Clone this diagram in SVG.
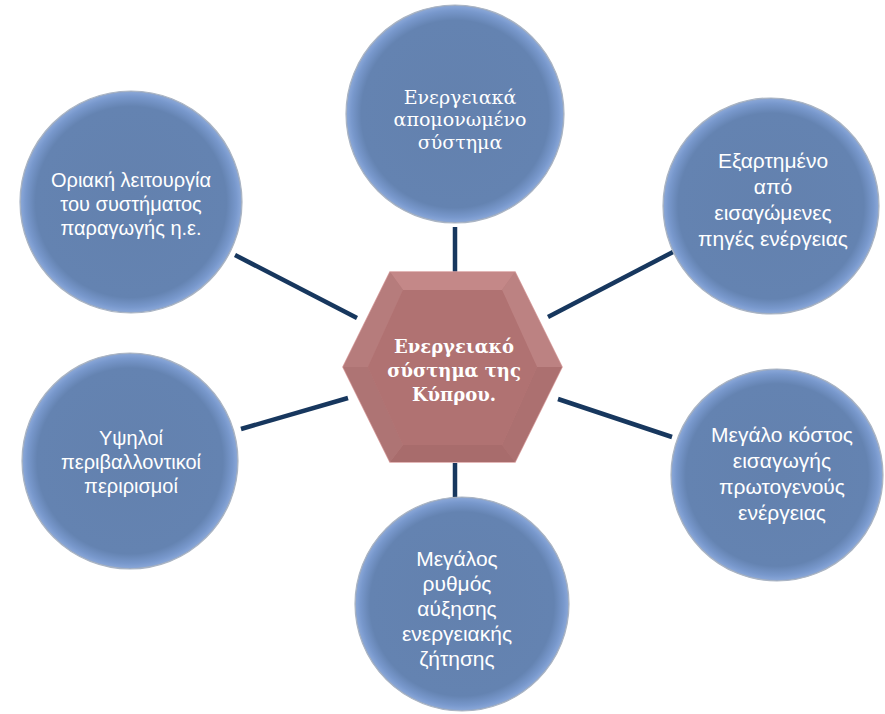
<svg xmlns="http://www.w3.org/2000/svg" width="885" height="714" viewBox="0 0 885 714">
<defs>
<radialGradient id="cg" cx="0.5" cy="0.5" r="0.5">
<stop offset="0" stop-color="#6381AE"/>
<stop offset="0.86" stop-color="#6483B1"/>
<stop offset="0.95" stop-color="#7898CC"/>
<stop offset="0.985" stop-color="#86A4D6"/>
<stop offset="1" stop-color="#9AA6B8"/>
</radialGradient>
<style>
.circ{fill:url(#cg);stroke:#A9B4C4;stroke-width:1.2}
.lbl{fill:#FFFFFF;font-family:"Liberation Sans","Noto Sans",sans-serif;font-size:20px;text-anchor:middle}
.big{font-size:21px}
.ser{fill:#FFFFFF;font-family:"DejaVu Serif","Liberation Serif",serif;font-size:19px;text-anchor:middle}
.hub{fill:#FFFFFF;font-family:"DejaVu Serif","Liberation Serif",serif;font-size:18px;font-weight:bold;text-anchor:middle}
.con{stroke:#17375E;stroke-width:4.5;stroke-linecap:butt;fill:none}
</style>
</defs>
<rect width="885" height="714" fill="#FFFFFF"/>

<g id="connectors">
<line class="con" x1="455" y1="227" x2="455" y2="272"/>
<line class="con" x1="235" y1="255" x2="357" y2="318"/>
<line class="con" x1="548" y1="317" x2="673" y2="252"/>
<line class="con" x1="558" y1="399" x2="672" y2="437"/>
<line class="con" x1="241" y1="429" x2="348" y2="398"/>
<line class="con" x1="455" y1="463" x2="455" y2="498"/>
</g>

<g id="node-top">
<circle class="circ" cx="455" cy="114" r="109"/>
<text class="ser" x="460" y="104">Ενεργειακά</text>
<text class="ser" x="460" y="126">απομονωμένο</text>
<text class="ser" x="460" y="149">σύστημα</text>
</g>

<g id="node-topleft">
<circle class="circ" cx="131" cy="202" r="111"/>
<text class="lbl" x="131" y="187">Οριακή λειτουργία</text>
<text class="lbl" x="131" y="211">του συστήματος</text>
<text class="lbl" x="131" y="235">παραγωγής η.ε.</text>
</g>

<g id="node-topright">
<circle class="circ" cx="771" cy="206" r="108"/>
<text class="lbl big" x="773" y="168">Εξαρτημένο</text>
<text class="lbl big" x="773" y="194">από</text>
<text class="lbl big" x="773" y="220">εισαγώμενες</text>
<text class="lbl big" x="773" y="246">πηγές ενέργειας</text>
</g>

<g id="node-right">
<circle class="circ" cx="777" cy="475" r="106"/>
<text class="lbl big" x="782" y="442">Μεγάλο κόστος</text>
<text class="lbl big" x="782" y="468">εισαγωγής</text>
<text class="lbl big" x="782" y="494">πρωτογενούς</text>
<text class="lbl big" x="782" y="520">ενέργειας</text>
</g>

<g id="node-left">
<circle class="circ" cx="130" cy="461" r="108"/>
<text class="lbl" x="131" y="445">Υψηλοί</text>
<text class="lbl" x="131" y="469">περιβαλλοντικοί</text>
<text class="lbl" x="131" y="493">περιρισμοί</text>
</g>

<g id="node-bottom">
<circle class="circ" cx="462" cy="604" r="107"/>
<text class="lbl big" x="457" y="566">Μεγάλος</text>
<text class="lbl big" x="457" y="591">ρυθμός</text>
<text class="lbl big" x="457" y="616">αύξησης</text>
<text class="lbl big" x="457" y="641">ενεργειακής</text>
<text class="lbl big" x="457" y="666">ζήτησης</text>
</g>

<g id="node-center">
<polygon points="390,272 515,272 562,367 515,462 390,462 343,367" fill="#B87A7A" stroke="#D9A0A0" stroke-width="1.5"/>
<polygon points="390,272 515,272 502,290 403,290" fill="#C48888"/>
<polygon points="390,272 403,290 368,367 343,367" fill="#B67C7C"/>
<polygon points="515,272 562,367 537,367 502,290" fill="#BC8282"/>
<polygon points="562,367 515,462 502,445 537,367" fill="#AC7070"/>
<polygon points="515,462 390,462 403,445 502,445" fill="#A86C6C"/>
<polygon points="390,462 343,367 368,367 403,445" fill="#AE7474"/>
<polygon points="403,290 502,290 537,367 502,445 403,445 368,367" fill="#B07272"/>
<text class="hub" x="454" y="353">Ενεργειακό</text>
<text class="hub" x="454" y="377">σύστημα της</text>
<text class="hub" x="454" y="401">Κύπρου.</text>
</g>
</svg>
